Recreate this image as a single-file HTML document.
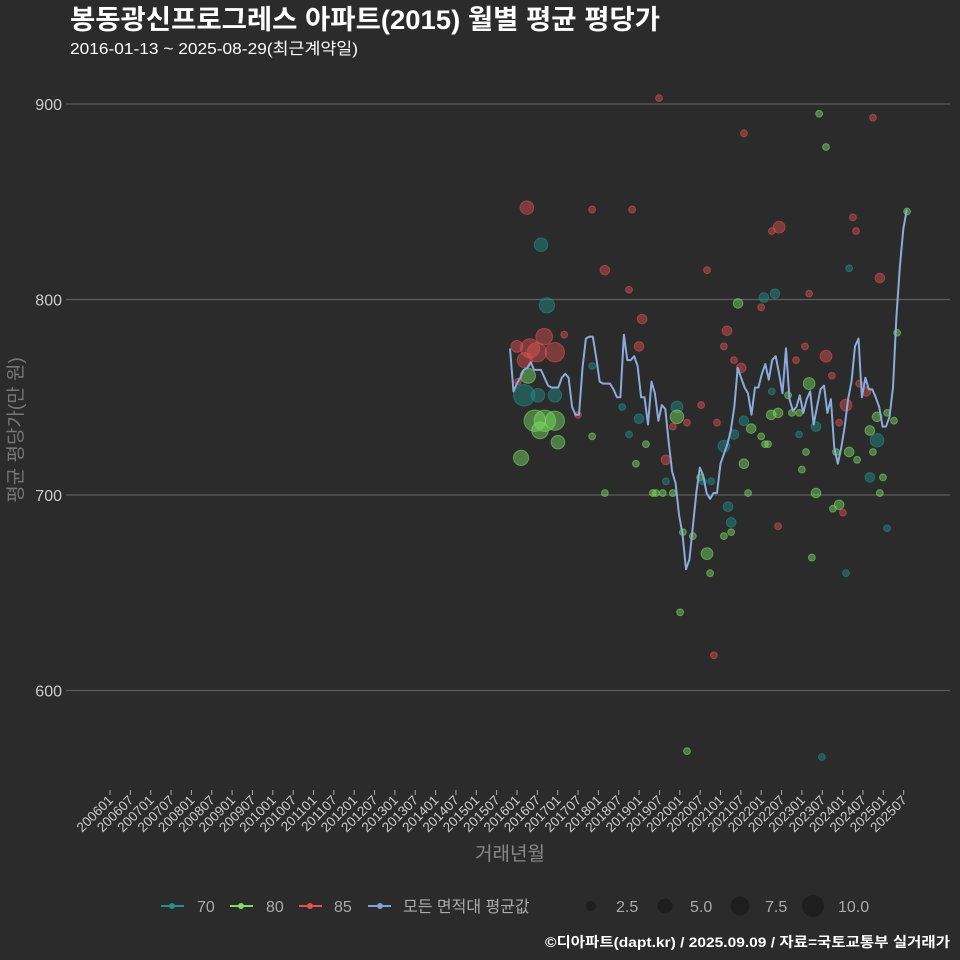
<!DOCTYPE html>
<html><head><meta charset="utf-8">
<style>
html,body{margin:0;padding:0;background:#2b2b2b;}
svg{display:block;font-family:"Liberation Sans","Noto Sans CJK KR",sans-serif;}
</style></head>
<body>
<svg id="chart" width="960" height="960" viewBox="0 0 960 960" xmlns="http://www.w3.org/2000/svg">
<rect width="960" height="960" fill="#2b2b2b"/>
<text x="70" y="29" fill="#ffffff" font-size="27" font-weight="bold" textLength="590" lengthAdjust="spacingAndGlyphs">봉동광신프로그레스 아파트(2015) 월별 평균 평당가</text>
<text x="70" y="54" fill="#ffffff" font-size="16" textLength="288" lengthAdjust="spacingAndGlyphs">2016-01-13 ~ 2025-08-29(최근계약일)</text>
<g id="grid"></g>
<g id="yticks"></g>
<g id="xticks"></g>
<g id="points"></g>
<g id="line"></g>
<text transform="translate(22,430) rotate(-90)" text-anchor="middle" fill="#777" font-size="19">평균 평당가(만 원)</text>
<text x="510" y="860" text-anchor="middle" fill="#888" font-size="19">거래년월</text>
<g font-size="16" fill="#aaa">
 <g><line x1="161" y1="906" x2="184" y2="906" stroke="#21908c" stroke-width="2"/><circle cx="172" cy="906" r="3" fill="#21908c"/><text x="197" y="912">70</text></g>
 <g><line x1="230" y1="906" x2="253" y2="906" stroke="#7ddf64" stroke-width="2"/><circle cx="241" cy="906" r="3" fill="#7ddf64"/><text x="266" y="912">80</text></g>
 <g><line x1="299" y1="906" x2="322" y2="906" stroke="#e35151" stroke-width="2"/><circle cx="310" cy="906" r="3" fill="#e35151"/><text x="334" y="912">85</text></g>
 <g><line x1="368" y1="906" x2="391" y2="906" stroke="#7fa3d6" stroke-width="2"/><circle cx="380" cy="906" r="3" fill="#7fa3d6"/><text x="403" y="912">모든 면적대 평균값</text></g>
 <g><circle cx="591" cy="906" r="5" fill="#1e1e1e"/><text x="616" y="912">2.5</text></g>
 <g><circle cx="665" cy="906" r="7.5" fill="#1e1e1e"/><text x="690" y="912">5.0</text></g>
 <g><circle cx="740" cy="906" r="9.5" fill="#1e1e1e"/><text x="765" y="912">7.5</text></g>
 <g><circle cx="813" cy="906" r="11" fill="#1e1e1e"/><text x="838" y="912">10.0</text></g>
</g>
<text x="950" y="947" text-anchor="end" fill="#ffffff" font-size="14" font-weight="bold" textLength="405" lengthAdjust="spacingAndGlyphs">©디아파트(dapt.kr) / 2025.09.09 / 자료=국토교통부 실거래가</text>
</svg>
<script>
// Y ticks
const yTickVals = [600, 700, 800, 900];
// X tick labels (every 6 months from 2006-01)
const xTickLabels = ["200601","200607","200701","200707","200801","200807","200901","200907","201001","201007","201101","201107","201201","201207","201301","201307","201401","201407","201501","201507","201601","201607","201701","201707","201801","201807","201901","201907","202001","202007","202101","202107","202201","202207","202301","202307","202401","202407","202501","202507"];
// Average line: monthly values from 2016-01 (month 0) to 2025-08
const lineValues = [775,753,757,760,764,765,768,764,764,764,760,756,755,755,755,760,762,760,745,741,741,765,780,781,781,770,758,757,757,757,754,750,750,782,769,769,771,766,750,750,736,758,752,738,746,744,727,712,706,690,680,662,667,684,701,714,710,701,698,701,701,716,721,726,733,745,765,760,755,752,741,755,755,762,767,759,769,771,762,752,775,749,743,745,751,742,749,753,736,745,754,756,742,749,724,716,724,735,749,758,776,780,750,760,754,754,750,745,735,735,740,755,791,817,836,846];
// Scatter: month offset since 2016-01, value, count, area group
const ptMonth = [4.9,9.0,10.7,15.7,9.9,2.0,5.8,7.8,13.0,4.3,23.8,5.2,2.3,4.1,8.1,13.0,7.2,10.1,13.0,8.7,13.9,23.8,3.2,19.7,
43.2,67.8,23.8,35.4,27.5,57.1,34.5,75.9,78.0,66.1,73.6,76.8,72.8,38.3,62.9,37.4,62.0,64.9,67.0,
32.5,37.4,48.4,48.4,55.4,51.3,47.2,60.0,34.5,39.4,45.2,36.5,45.2,27.5,41.4,42.3,44.3,47.2,55.1,55.9,58.3,67.8,69.9,64.9,62.0,67.8,72.8,73.9,74.8,69.0,75.7,75.9,63.2,64.1,62.0,64.1,50.1,53.0,57.1,58.0,49.3,59.1,51.3,77.7,
89.6,105.2,91.6,99.4,100.3,98.3,107.2,86.7,112.2,115.1,85.5,91.6,82.9,93.3,
86.7,97.4,103.2,101.2,77.7,81.7,83.8,80.6,88.7,95.4,83.8,106.4,109.3,111.3,104.3,106.4,98.3,94.5,85.8,100.6,105.2,84.6,104.3,108.1,88.7,107.2,95.4,93.6,96.5,109.3,87.5,97.4,90.4];
const ptValue = [847,828,797,782,781,776,775,773,773,769,766,761,758,751,751,751,738,738,738,733,727,730,719,741,
903,885,846,846,815,815,805,835,837,798,801,803,796,790,784,776,776,769,765,
745,739,745,740,746,737,735,737,731,726,718,716,707,701,701,701,701,701,709,707,707,738,734,731,725,716,730,726,726,701,741,753,694,686,679,681,681,679,670,660,640,618,569,684,
895,893,878,842,835,816,811,803,783,845,776,771,769,761,
757,746,753,757,742,742,742,751,735,737,731,740,742,738,733,728,722,722,722,718,722,713,709,709,701,701,695,693,691,683,668,660,566];
const ptCount = [4,4,5,1,6,3,8,8,8,5,1,5,1,10,4,4,10,10,8,6,4,1,5,1,
1,1,1,1,2,1,1,1,3,2,2,2,1,2,2,2,1,1,2,
1,2,3,4,1,1,1,1,1,1,2,1,1,1,1,1,1,1,1,1,1,2,2,2,3,2,1,1,1,1,2,1,2,2,1,1,1,1,3,1,1,1,1,1,
1,1,1,1,1,1,2,1,1,1,1,3,1,1,
3,3,2,1,2,1,1,1,2,1,1,2,1,1,2,4,2,1,1,1,1,1,2,1,2,1,2,1,1,1,1,1,1];
const ptGroup = ["85","70","70","85","85","85","85","85","85","85","70","80","85","70","70","70","80","80","80","80","80","80","80","85",
"85","85","85","85","85","85","85","85","85","80","70","70","85","85","85","85","85","85","85",
"70","70","70","80","85","85","85","85","70","80","85","80","70","80","80","80","80","80","80","70","70","70","80","70","70","80","80","80","80","80","80","70","70","70","80","80","80","80","80","80","80","85","80","85",
"80","85","80","85","85","70","85","85","80","80","85","85","85","85",
"80","85","85","85","80","80","80","80","70","85","70","80","80","80","80","70","80","80","80","80","80","80","70","80","80","80","80","80","85","70","80","70","70"];

const colors = {"70":"#21908c","80":"#7ddf64","85":"#e35151"};
const NS = "http://www.w3.org/2000/svg";
function yScale(v){ return 104 + (900 - v) * 1.955; }
function xData(m){ return 510 + m * 3.45; }
function xTick(i){ return 110 + i * 20.35; }
function rScale(n){ return 3.4 * Math.sqrt(n); }
function mk(tag, attrs){ const e = document.createElementNS(NS, tag); for (const k in attrs) e.setAttribute(k, attrs[k]); return e; }

const grid = document.getElementById('grid');
const yt = document.getElementById('yticks');
yTickVals.forEach(v => {
  const l = mk('line', {x1:66, x2:950, y1:yScale(v), y2:yScale(v), stroke:'#5e5e5e', 'stroke-width':1.2});
  
  
  grid.appendChild(l);
  const t = mk('text', {x:62, y:yScale(v)+6, 'text-anchor':'end', fill:'#cccccc', 'font-size':16});
  
  
  t.textContent = v;
  yt.appendChild(t);
});

const xt = document.getElementById('xticks');
xTickLabels.forEach((lab, i) => {
  const x = xTick(i);
  const tk = mk('line', {x1:x, x2:x, y1:790, y2:795, stroke:'#aaaaaa', 'stroke-width':1});
  
  
  xt.appendChild(tk);
  const t = mk('text', {transform:'translate(' + (x+4) + ',801) rotate(-45)', 'text-anchor':'end', fill:'#cccccc', 'font-size':13.5});
  
  
  t.textContent = lab;
  xt.appendChild(t);
});

const pg = document.getElementById('points');
ptMonth.forEach((m, i) => {
  const c = colors[ptGroup[i]];
  const p = mk('circle', {cx:xData(m), cy:yScale(ptValue[i]), r:rScale(ptCount[i]), fill:c, 'fill-opacity':0.45, stroke:c, 'stroke-opacity':0.55, 'stroke-width':1});
  
  
  pg.appendChild(p);
});

const lg = document.getElementById('line');
const d = lineValues.map((v, i) => (i ? 'L' : 'M') + xData(i).toFixed(1) + ',' + yScale(v).toFixed(1)).join(' ');
const path = mk('path', {d:d, fill:'none', stroke:'#8aabdc', 'stroke-width':2, 'stroke-linejoin':'round'});


lg.appendChild(path);
</script>
</body></html>
